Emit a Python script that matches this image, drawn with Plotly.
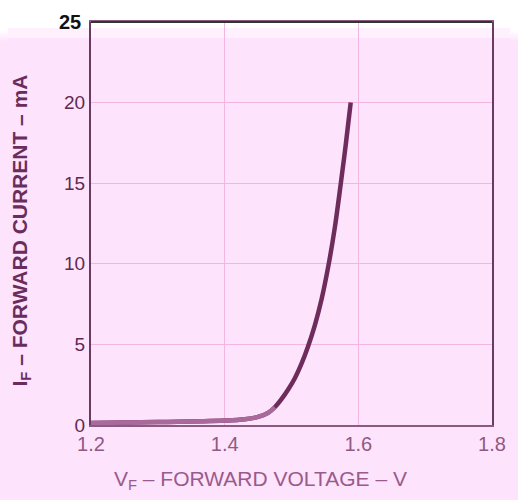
import plotly.graph_objects as go

# Forward voltage (V) and forward current (mA)
vf = [1.20, 1.30, 1.40, 1.43, 1.45, 1.465, 1.475, 1.485, 1.495, 1.505, 1.515, 1.525,
      1.535, 1.545, 1.5553, 1.565, 1.5738, 1.5815, 1.5886]
if_ma = [0.12, 0.18, 0.28, 0.36, 0.5, 0.75, 1.1, 1.6, 2.2, 2.9, 3.8, 4.9,
         6.2, 7.8, 9.9, 12.3, 15.0, 17.5, 20.0]

x_ticks = [1.2, 1.4, 1.6, 1.8]
y_ticks = [0, 5, 10, 15, 20]

PINK_BG = "#fde3fb"
GRID = "#f3b6df"
CURVE_DARK = "#6e2c5c"
CURVE_LIGHT = "#a96a9b"   # the low-current part of the curve looks faded
N_LIGHT = 7               # number of leading points drawn in the lighter tone

fig = go.Figure()
fig.add_trace(go.Scatter(
    x=vf, y=if_ma, mode="lines",
    line=dict(color=CURVE_DARK, width=4.5, shape="spline", smoothing=1.0),
    hoverinfo="skip", showlegend=False,
))
fig.add_trace(go.Scatter(
    x=vf[:N_LIGHT], y=if_ma[:N_LIGHT], mode="lines",
    line=dict(color=CURVE_LIGHT, width=4.5, shape="spline", smoothing=1.0),
    hoverinfo="skip", showlegend=False,
))

fig.update_layout(
    width=510, height=492,
    margin=dict(l=83, r=23, t=12, b=75),
    paper_bgcolor=PINK_BG,
    plot_bgcolor=PINK_BG,
    font=dict(family="Liberation Sans, Arial, sans-serif"),
    xaxis=dict(
        range=[1.2, 1.8], tickvals=x_ticks, ticktext=[f"{v:.1f}" for v in x_ticks],
        showgrid=True, gridcolor=GRID, gridwidth=1,
        showline=True, linecolor="#8a5a80", linewidth=2, mirror=True,
        zeroline=False, ticks="",
        tickfont=dict(size=20, color="#8e5a84"),
    ),
    yaxis=dict(
        range=[0, 25], tickvals=y_ticks, ticktext=[str(v) for v in y_ticks],
        showgrid=True, gridcolor=GRID, gridwidth=1,
        showline=True, linecolor="#6a3a60", linewidth=2, mirror=True,
        zeroline=False, ticks="",
        tickfont=dict(size=19, color="#5e2a52"),
    ),
    shapes=[
        dict(type="rect", xref="paper", yref="paper", x0=-1, x1=2, y0=0.985, y1=1.1,
             fillcolor="white", line=dict(width=0), layer="below"),
        dict(type="rect", xref="paper", yref="paper", x0=-1, x1=2, y0=0.96, y1=0.985,
             fillcolor="rgba(255,255,255,0.5)", line=dict(width=0), layer="below"),
        dict(type="line", xref="paper", yref="paper", x0=0, x1=1, y0=1, y1=1,
             line=dict(color="#333333", width=2)),
    ],
    annotations=[
        dict(text="<b>25</b>", x=-0.02, y=25, xref="paper", yref="y", xanchor="right",
             yanchor="middle", showarrow=False, font=dict(size=20, color="#111111")),
        dict(text="<b>I<sub>F</sub> – FORWARD CURRENT – mA</b>", textangle=-90,
             x=(20 - 91) / 404, y=(425 - 230) / 405, xref="paper", yref="paper",
             xanchor="center", yanchor="middle", showarrow=False,
             font=dict(size=21, color="#6a2c5c")),
        dict(text="V<sub>F</sub> – FORWARD VOLTAGE – V",
             x=(262 - 91) / 404, y=(425 - 480) / 405, xref="paper", yref="paper",
             xanchor="center", yanchor="middle",
             showarrow=False, font=dict(size=21, color="#9a5a8c")),
    ],
)

fig.write_html(
    "out.html",
    post_script="document.body.style.background="
                "'linear-gradient(to bottom, #ffffff 0px, #ffffff 30px, #fde3fb 42px)';",
)
